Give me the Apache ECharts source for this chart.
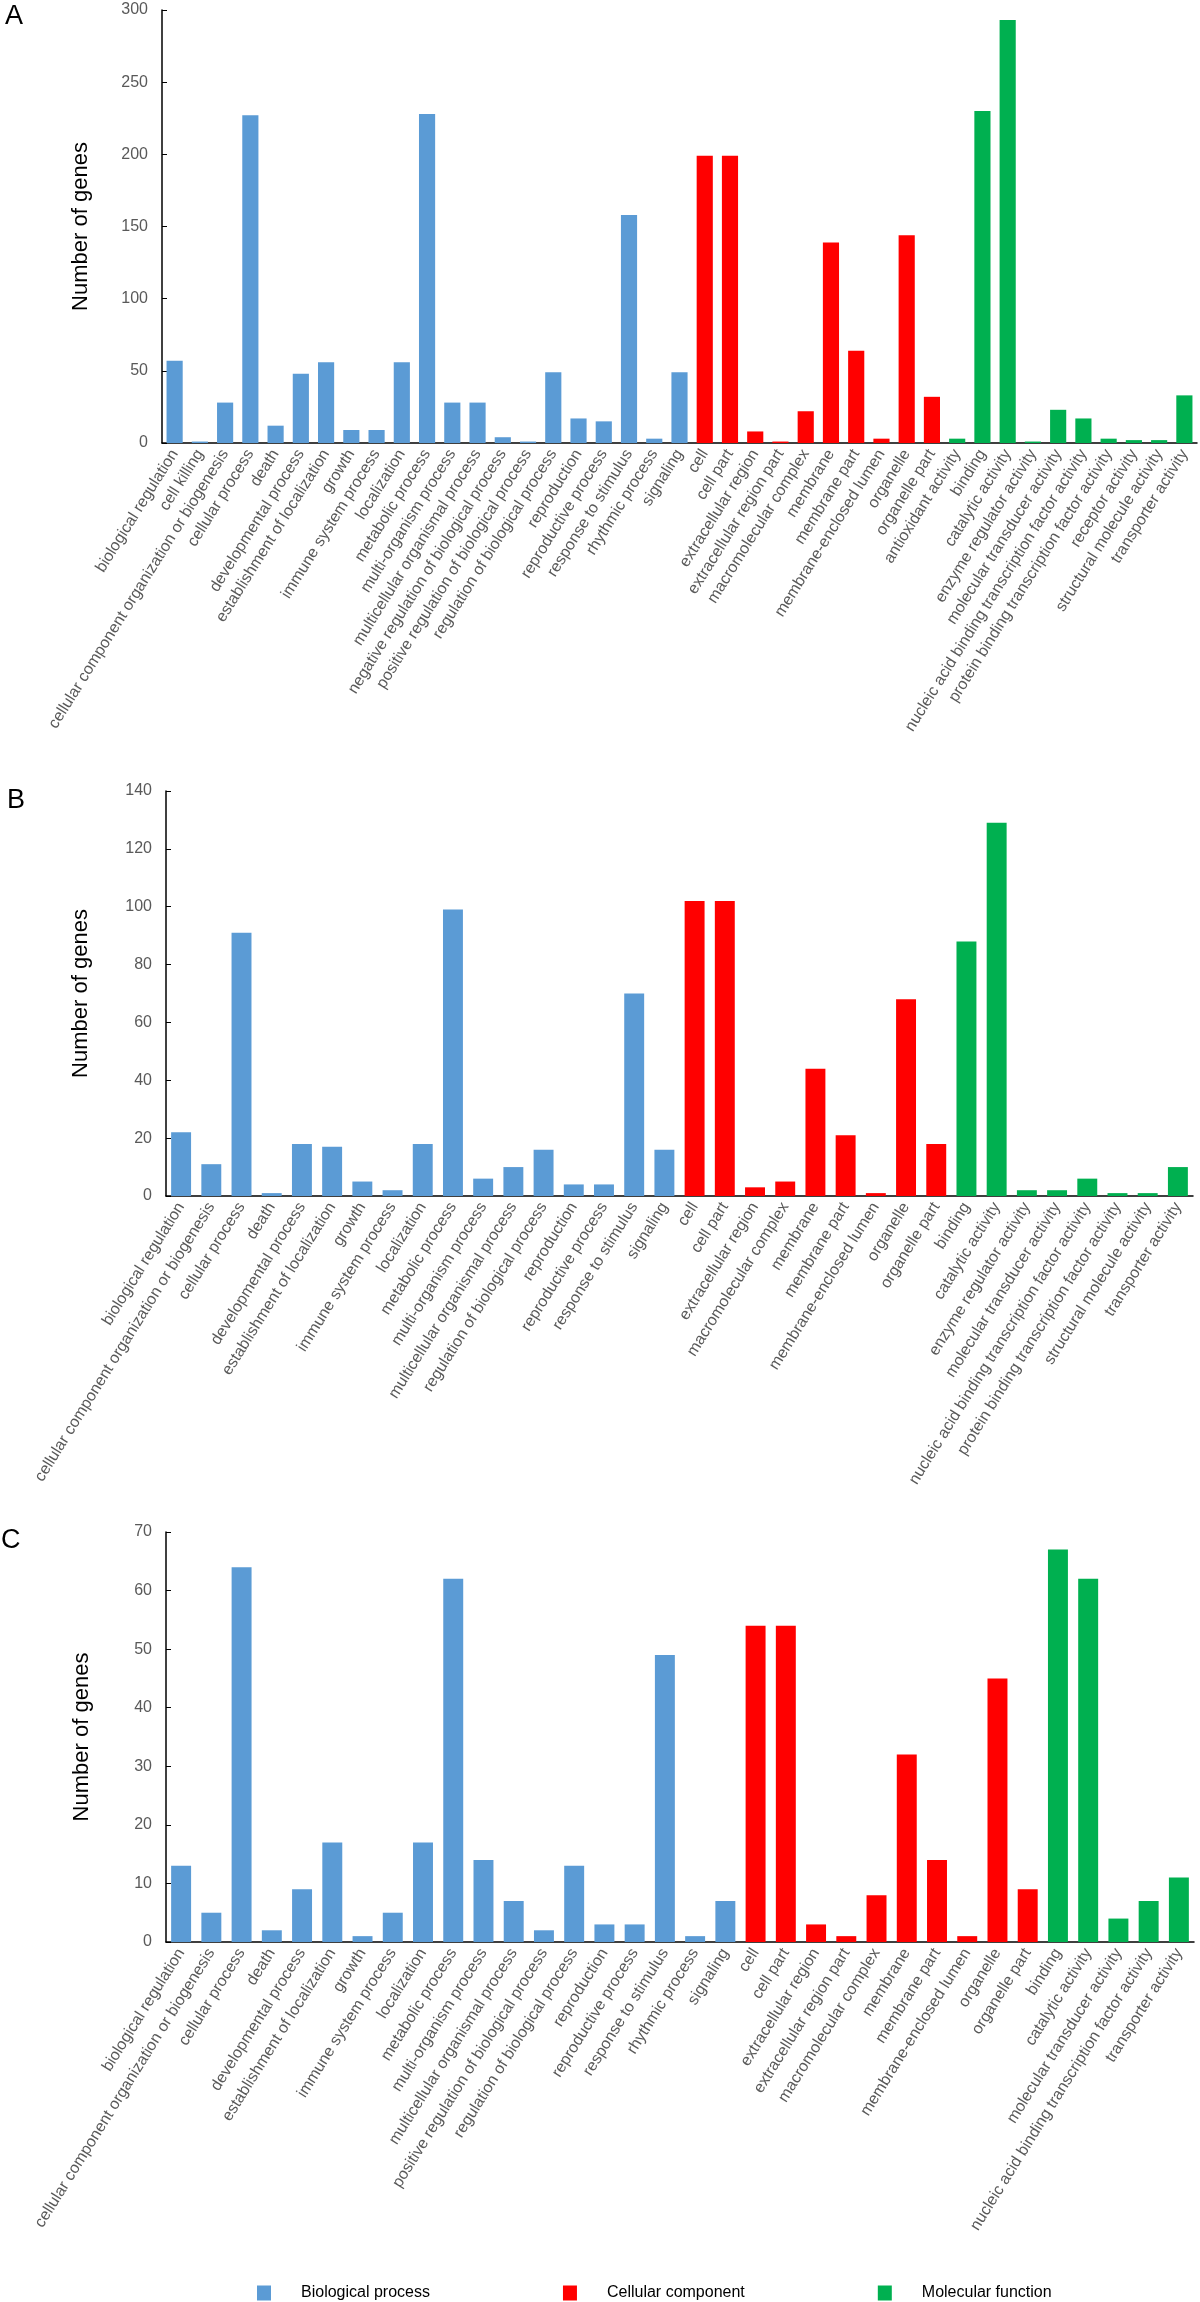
<!DOCTYPE html>
<html><head><meta charset="utf-8">
<script src="https://cdn.jsdelivr.net/npm/echarts@6/dist/echarts.min.js"></script>
<style>html,body{margin:0;padding:0;background:#fff;}#c{width:1200px;height:2302px;}</style>
</head><body><div id="c"></div>
<script>
// ---------- Panel A ----------
const bpCatsA = ['biological regulation','cell killing','cellular component organization or biogenesis','cellular process','death','developmental process','establishment of localization','growth','immune system process','localization','metabolic process','multi-organism process','multicellular organismal process','negative regulation of biological process','positive regulation of biological process','regulation of biological process','reproduction','reproductive process','response to stimulus','rhythmic process','signaling'];
const bpValsA = [57,1,28,227,12,48,56,9,9,56,228,28,28,4,1,49,17,15,158,3,49];
const ccCatsA = ['cell','cell part','extracellular region','extracellular region part','macromolecular complex','membrane','membrane part','membrane-enclosed lumen','organelle','organelle part'];
const ccValsA = [199,199,8,1,22,139,64,3,144,32];
const mfCatsA = ['antioxidant activity','binding','catalytic activity','enzyme regulator activity','molecular transducer activity','nucleic acid binding transcription factor activity','protein binding transcription factor activity','receptor activity','structural molecule activity','transporter activity'];
const mfValsA = [3,230,293,1,23,17,3,2,2,33];
const yAxisA = {max:300, interval:50};

// ---------- Panel B ----------
const bpCatsB = ['biological regulation','cellular component organization or biogenesis','cellular process','death','developmental process','establishment of localization','growth','immune system process','localization','metabolic process','multi-organism process','multicellular organismal process','regulation of biological process','reproduction','reproductive process','response to stimulus','signaling'];
const bpValsB = [22,11,91,1,18,17,5,2,18,99,6,10,16,4,4,70,16];
const ccCatsB = ['cell','cell part','extracellular region','macromolecular complex','membrane','membrane part','membrane-enclosed lumen','organelle','organelle part'];
const ccValsB = [102,102,3,5,44,21,1,68,18];
const mfCatsB = ['binding','catalytic activity','enzyme regulator activity','molecular transducer activity','nucleic acid binding transcription factor activity','protein binding transcription factor activity','structural molecule activity','transporter activity'];
const mfValsB = [88,129,2,2,6,1,1,10];
const yAxisB = {max:140, interval:20};

// ---------- Panel C ----------
const bpCatsC = ['biological regulation','cellular component organization or biogenesis','cellular process','death','developmental process','establishment of localization','growth','immune system process','localization','metabolic process','multi-organism process','multicellular organismal process','positive regulation of biological process','regulation of biological process','reproduction','reproductive process','response to stimulus','rhythmic process','signaling'];
const bpValsC = [13,5,64,2,9,17,1,5,17,62,14,7,2,13,3,3,49,1,7];
const ccCatsC = ['cell','cell part','extracellular region','extracellular region part','macromolecular complex','membrane','membrane part','membrane-enclosed lumen','organelle','organelle part'];
const ccValsC = [54,54,3,1,8,32,14,1,45,9];
const mfCatsC = ['binding','catalytic activity','molecular transducer activity','nucleic acid binding transcription factor activity','transporter activity'];
const mfValsC = [67,62,4,7,11];
const yAxisC = {max:70, interval:10};

const groupNames = ['Biological process','Cellular component','Molecular function'];
const groupColors = ['#5B9BD5','#FF0000','#00B050'];
const panelLetters = ['A','B','C'];

const FONT = '"Liberation Sans", Arial, Helvetica, sans-serif';

const panels = [
  {bp:[bpCatsA,bpValsA], cc:[ccCatsA,ccValsA], mf:[mfCatsA,mfValsA], y:yAxisA,
   grid:{left:162, right:3, top:10, height:433}, letter:{left:5, top:3}, gap:'36%', nameGap:70},
  {bp:[bpCatsB,bpValsB], cc:[ccCatsB,ccValsB], mf:[mfCatsB,mfValsB], y:yAxisB,
   grid:{left:166, right:7, top:791, height:405}, letter:{left:7, top:787}, gap:'34%', nameGap:74},
  {bp:[bpCatsC,bpValsC], cc:[ccCatsC,ccValsC], mf:[mfCatsC,mfValsC], y:yAxisC,
   grid:{left:166, right:6, top:1532, height:410}, letter:{left:1, top:1527}, gap:'34%', nameGap:73}
];

const grids = [], xAxes = [], yAxes = [], series = [], titles = [];
panels.forEach((p, i) => {
  const cats = p.bp[0].concat(p.cc[0], p.mf[0]);
  const groups = [p.bp, p.cc, p.mf];
  grids.push(Object.assign({}, p.grid));
  titles.push({text: panelLetters[i], left: p.letter.left, top: p.letter.top, padding: 0,
    textStyle: {fontFamily: FONT, fontSize: 27, fontWeight: 'normal', color: '#000'}});
  xAxes.push({type:'category', gridIndex:i, data:cats,
    axisLine:{show:true, lineStyle:{color:'#000', width:1.5}},
    axisTick:{show:false},
    axisLabel:{interval:0, rotate:58, margin:8, fontFamily:FONT, fontSize:16, color:'#595959'}});
  yAxes.push({type:'value', gridIndex:i, min:0, max:p.y.max, interval:p.y.interval,
    name:'Number of genes', nameLocation:'middle', nameGap:p.nameGap,
    nameTextStyle:{fontFamily:FONT, fontSize:22, color:'#000'},
    axisLine:{show:true, lineStyle:{color:'#000', width:1.5}},
    axisTick:{show:true, inside:true, length:5, lineStyle:{color:'#000'}},
    splitLine:{show:false},
    axisLabel:{margin:14, fontFamily:FONT, fontSize:16, color:'#595959'}});
  let offset = 0;
  groups.forEach((g, k) => {
    const data = cats.map(() => '-');
    g[1].forEach((v, j) => { data[offset + j] = v; });
    offset += g[0].length;
    series.push({type:'bar', name:groupNames[k], xAxisIndex:i, yAxisIndex:i, stack:'p'+i,
      barCategoryGap:p.gap, data:data, itemStyle:{color:groupColors[k]}, silent:true});
  });
});

const chart = echarts.init(document.getElementById('c'), null, {renderer:'canvas'});
chart.setOption({
  animation:false,
  backgroundColor:'#fff',
  title: titles,
  grid: grids,
  xAxis: xAxes,
  yAxis: yAxes,
  series: series,
  legend:{data:groupNames, left:252, top:2280, itemWidth:14, itemHeight:15, itemGap:133,
    icon:'rect',
    textStyle:{fontFamily:FONT, fontSize:16, color:'#000', width:170, padding:[0,0,0,25]}}
});
</script></body></html>
